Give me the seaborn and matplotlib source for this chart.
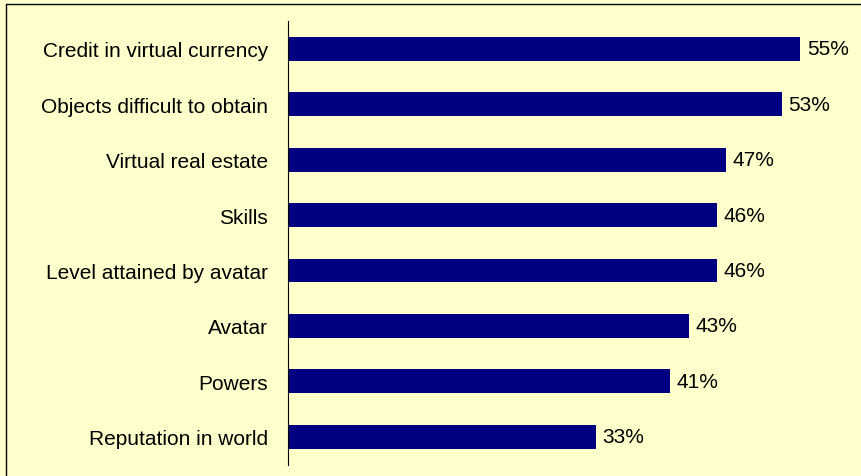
import matplotlib
matplotlib.use("Agg")
import matplotlib.pyplot as plt
import seaborn as sns
import pandas as pd
from matplotlib.lines import Line2D

categories = ["Credit in virtual currency", "Objects difficult to obtain", "Virtual real estate",
              "Skills", "Level attained by avatar", "Avatar", "Powers", "Reputation in world"]
values = [55, 53, 47, 46, 46, 43, 41, 33]

df = pd.DataFrame({"category": categories, "value": values})

sns.set_theme(style="white")
plt.rcParams["font.family"] = ["Liberation Sans", "DejaVu Sans"]

bg = "#FFFFCC"
fig = plt.figure(figsize=(8.62, 4.77), dpi=100, facecolor=bg)
ax = fig.add_axes([288 / 862, 1 - 465.5 / 477, 559 / 862, 443.5 / 477])
ax.set_facecolor(bg)

sns.barplot(data=df, x="value", y="category", orient="h", color="#000080",
            saturation=1, width=0.43, linewidth=0, ax=ax)

ax.set_xlim(-0.1, 60)
ax.set_ylim(7.5, -0.5)
ax.set_xlabel("")
ax.set_ylabel("")
ax.set_xticks([])
ax.tick_params(axis="y", length=0, pad=14.4, labelsize=15, colors="black")
for s in ["top", "right", "bottom"]:
    ax.spines[s].set_visible(False)
ax.spines["left"].set_color("black")
ax.spines["left"].set_linewidth(0.8)

for i, v in enumerate(values):
    ax.annotate(f"{v}%", xy=(v, i), xytext=(4.5, 0), textcoords="offset points",
                va="center", ha="left", fontsize=15, color="black")

fig.add_artist(Line2D([6.5 / 862, 6.5 / 862], [0, 1 - 4.5 / 477], transform=fig.transFigure,
                      color="black", linewidth=1))
fig.add_artist(Line2D([6.5 / 862, 1], [1 - 4.5 / 477, 1 - 4.5 / 477], transform=fig.transFigure,
                      color="black", linewidth=1))

fig.savefig("out.png", dpi=100, facecolor=bg)
